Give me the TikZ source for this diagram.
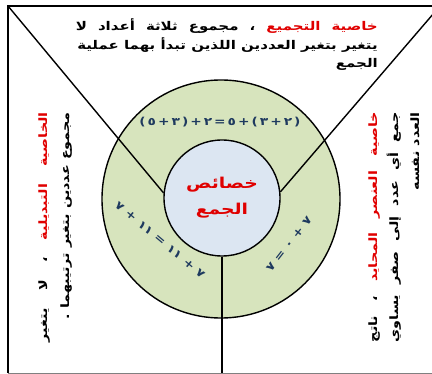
\documentclass[tikz,border=0pt]{standalone}
\usepackage{fontspec}
\newfontfamily\arabicfont[Script=Arabic, FakeStretch=1.25]{DejaVu Sans}
\newfontfamily\arabicred[Script=Arabic, FakeStretch=1.25, Color=E00000]{DejaVu Sans}
\TeXXeTstate=1
\definecolor{ringgreen}{HTML}{D7E4BD}
\definecolor{corefill}{HTML}{DCE6F2}
\definecolor{labelred}{HTML}{E00000}
\definecolor{eqblue}{HTML}{1F3A5F}
\begin{document}
\begin{tikzpicture}[x=1pt, y=-1pt,
  ar/.style={font=\arabicfont\bfseries\fontsize{12}{19.5}\selectfont, inner sep=0pt, anchor=base east},
  side/.style={font=\arabicfont\bfseries\fontsize{11.5}{21}\selectfont, inner sep=0pt, rotate=90, anchor=base east},
  eq/.style={font=\arabicfont\bfseries\fontsize{11}{12}\selectfont, text=eqblue, inner sep=0pt},
  ring/.style={draw, line width=1.4pt, circle, inner sep=0pt},
  edge/.style={line width=1.4pt}
]
\useasboundingbox (0,0) rectangle (432,374);
\clip (0,0) rectangle (432,374);
\coordinate (tl) at (8,6);
\coordinate (tr) at (440,6);
\coordinate (br) at (440,373);
\coordinate (bl) at (8,373);
\coordinate (bm) at (222,373);
\draw[gray, line width=0.8pt] (bl) -- (br);
\draw[line width=1.6pt] (bl) -- (tl) -- (tr);

\node[ring, fill=ringgreen, minimum size=238pt] (outer) at (221,199) {};
\node[ring, fill=corefill, minimum size=116pt, align=center, text=labelred,
      font=\arabicfont\bfseries\fontsize{15}{26}\selectfont] (core) at (222,198)
  {\beginR خصائص\endR\\\beginR الجمع\endR};

\draw[edge] (tl) -- (core.175);
\draw[edge] (tr) -- (core.6);
\draw[edge] (core.south) -- (bm);

\node[ar] (assoc) at (378,31)
  {\makebox[302pt][s]{\beginR{\arabicred خاصية التجميع} ، مجموع ثلاثة أعداد لا\endR}};
\node[ar] (assoc2) at (378,49.5) {\beginR يتغير بتغير العددين اللذين تبدأ بهما عملية\endR};
\node[ar] (assoc3) at (378,68) {\beginR الجمع\endR};

\node[side] (comm) at (47,112)
  {\makebox[230pt][s]{\beginR{\arabicred الخاصية التبديلية} ، لا يتغير\endR}};
\node[side] (comm2) at (69,112) {\beginR مجموع عددين بتغير ترتيبهما .\endR};

\node[side] (ident) at (377,112)
  {\makebox[230pt][s]{\beginR{\arabicred خاصية العنصر المحايد} ، ناتج\endR}};
\node[side] (ident2) at (398,112)
  {\makebox[230pt][s]{\beginR جمع أي عدد إلى صفر يساوي\endR}};
\node[side] (ident3) at (419,112) {\beginR العدد نفسه\endR};

\node[eq] (assoceq) at (220,122)
  {\spaceskip=2pt\relax\beginR ( ٢ + ٣ ) + ٥ = ٢ + ( ٣ + ٥ )\endR};
\node[eq, rotate=-40] (commeq) at (160,240) {\beginR ٧ + ١١ = ١١ + ٧\endR};
\node[eq, rotate=52] (identeq) at (289,244) {\beginR ٧ + ٠ = ٧\endR};
\end{tikzpicture}
\end{document}
